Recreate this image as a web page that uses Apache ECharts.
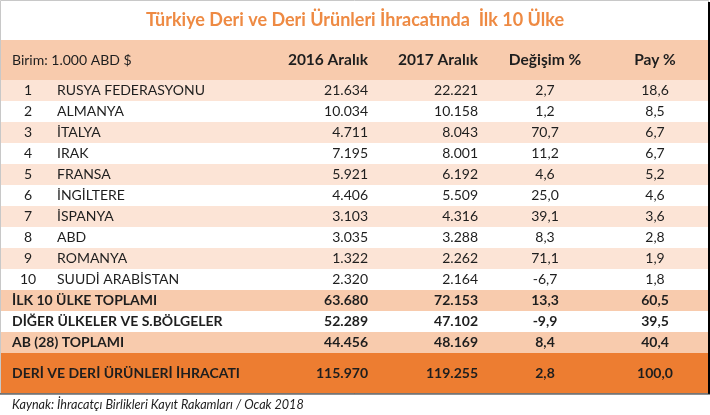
<!DOCTYPE html>
<html><head><meta charset="utf-8">
<script src="https://cdn.jsdelivr.net/npm/echarts@6/dist/echarts.min.js"></script>
<style>html,body{margin:0;padding:0;background:#fff}#c{width:710px;height:415px}</style>
</head><body><div id="c"></div>
<script>
// ---- data ----
const title = 'Türkiye Deri ve Deri Ürünleri İhracatında  İlk 10 Ülke';
const unitLabel = 'Birim: 1.000 ABD $';
const headers = ['2016 Aralık', '2017 Aralık', 'Değişim %', 'Pay %'];
const ranks = [1, 2, 3, 4, 5, 6, 7, 8, 9, 10];
const countries = ['RUSYA FEDERASYONU', 'ALMANYA', 'İTALYA', 'IRAK', 'FRANSA', 'İNGİLTERE', 'İSPANYA', 'ABD', 'ROMANYA', 'SUUDİ ARABİSTAN'];
const values2016 = [21634, 10034, 4711, 7195, 5921, 4406, 3103, 3035, 1322, 2320];
const values2017 = [22221, 10158, 8043, 8001, 6192, 5509, 4316, 3288, 2262, 2164];
const changePct = [2.7, 1.2, 70.7, 11.2, 4.6, 25.0, 39.1, 8.3, 71.1, -6.7];
const sharePct = [18.6, 8.5, 6.7, 6.7, 5.2, 4.6, 3.6, 2.8, 1.9, 1.8];
const totalNames = ['İLK 10 ÜLKE TOPLAMI', 'DİĞER ÜLKELER VE S.BÖLGELER', 'AB (28) TOPLAMI', 'DERİ VE DERİ ÜRÜNLERİ İHRACATI'];
const total2016 = [63680, 52289, 44456, 115970];
const total2017 = [72153, 47102, 48169, 119255];
const totalChange = [13.3, -9.9, 8.4, 2.8];
const totalShare = [60.5, 39.5, 40.4, 100.0];
const source = 'Kaynak: İhracatçı Birlikleri Kayıt Rakamları / Ocak 2018';

// ---- formatting ----
const fmtInt = v => String(v).replace(/\B(?=(\d{3})+(?!\d))/g, '.');
const fmtPct = v => v.toFixed(1).replace('.', ',');

// ---- layout (style only) ----
const FONT = 'Lato, "Open Sans", sans-serif';
const colX = { rank: 28, name: 57, totalName: 12, v16: 368, v17: 478, chg: 545, share: 655 };
const C_HEAD = '#F8CBAD', C_LIGHT = '#FCE4D6', C_DARK = '#ED7D31', C_WHITE = '#FFFFFF';
const TXT = '#1e1e1e';
const FS_BODY = 14, FS_BOLD = 14, FS_HEAD = 15.5, FS_TITLE = 18, FS_SRC = 12.6;

// build table rows
const rows = [];
rows.push({ kind: 'title', top: 0, h: 40, bg: C_WHITE });
rows.push({ kind: 'header', top: 40, h: 40, bg: C_HEAD });
ranks.forEach((r, i) => rows.push({
  kind: 'body', top: 80 + i * 21, h: 21, bg: i % 2 === 0 ? C_LIGHT : C_WHITE,
  cells: [String(r), countries[i], fmtInt(values2016[i]), fmtInt(values2017[i]), fmtPct(changePct[i]), fmtPct(sharePct[i])]
}));
const totBg = [C_HEAD, C_WHITE, C_HEAD, C_DARK];
totalNames.forEach((n, i) => rows.push({
  kind: 'total', top: 290 + i * 21, h: i === 3 ? 41 : 21, bg: totBg[i],
  cells: [n, fmtInt(total2016[i]), fmtInt(total2017[i]), fmtPct(totalChange[i]), fmtPct(totalShare[i])]
}));

function txt(api, x, y, s, align, bold, size, color, italic) {
  const p = api.coord([x, y]);
  return { type: 'text', x: p[0], y: p[1], style: {
    text: s, fill: color || TXT, align: align, verticalAlign: 'middle',
    font: (italic ? 'italic ' : '') + (bold ? 'bold ' : '') + (size || FS_BODY) + 'px ' + FONT } };
}

function renderItem(params, api) {
  const row = rows[params.dataIndex];
  const p0 = api.coord([0, row.top]);
  const p1 = api.coord([710, row.top + row.h]);
  const children = [{ type: 'rect', shape: { x: p0[0], y: p0[1], width: p1[0] - p0[0], height: p1[1] - p0[1] }, style: { fill: row.bg } }];
  const cy = row.top + row.h / 2;
  if (row.kind === 'title') {
    children.push(txt(api, 355, cy, title, 'center', true, FS_TITLE, '#EE8A43'));
  } else if (row.kind === 'header') {
    children.push(txt(api, 12, cy, unitLabel, 'left', false, FS_BODY));
    children.push(txt(api, colX.v16, cy, headers[0], 'right', true, FS_HEAD));
    children.push(txt(api, colX.v17, cy, headers[1], 'right', true, FS_HEAD));
    children.push(txt(api, colX.chg, cy, headers[2], 'center', true, FS_HEAD));
    children.push(txt(api, colX.share, cy, headers[3], 'center', true, FS_HEAD));
  } else if (row.kind === 'body') {
    const c = row.cells;
    children.push(txt(api, colX.rank, cy, c[0], 'center', false));
    children.push(txt(api, colX.name, cy, c[1], 'left', false));
    children.push(txt(api, colX.v16, cy, c[2], 'right', false));
    children.push(txt(api, colX.v17, cy, c[3], 'right', false));
    children.push(txt(api, colX.chg, cy, c[4], 'center', false));
    children.push(txt(api, colX.share, cy, c[5], 'center', false));
  } else {
    const c = row.cells;
    children.push(txt(api, colX.totalName, cy, c[0], 'left', true, FS_BOLD));
    children.push(txt(api, colX.v16, cy, c[1], 'right', true, FS_BOLD));
    children.push(txt(api, colX.v17, cy, c[2], 'right', true, FS_BOLD));
    children.push(txt(api, colX.chg, cy, c[3], 'center', true, FS_BOLD));
    children.push(txt(api, colX.share, cy, c[4], 'center', true, FS_BOLD));
  }
  return { type: 'group', children: children };
}

function renderFrame(params, api) {
  const a = api.coord([0, 0]), b = api.coord([710, 394]);
  return { type: 'group', children: [
    { type: 'rect', shape: { x: a[0] + 0.5, y: a[1] + 0.5, width: b[0] - a[0] - 2, height: b[1] - a[1] - 1 }, style: { fill: null, stroke: '#c8c8c8', lineWidth: 1 } },
    { type: 'line', shape: { x1: b[0] - 1, y1: a[1] + 2, x2: b[0] - 1, y2: b[1] }, style: { stroke: '#000', lineWidth: 2 } },
    { type: 'line', shape: { x1: a[0], y1: b[1], x2: b[0], y2: b[1] }, style: { stroke: '#222', lineWidth: 1 } },
    txt(api, 12, 405, source, 'left', false, FS_SRC, '#222', true)
  ] };
}

const chart = echarts.init(document.getElementById('c'), null, { renderer: 'canvas' });
chart.setOption({
  animation: false,
  grid: { left: 0, right: 0, top: 0, bottom: 0 },
  xAxis: { type: 'value', min: 0, max: 710, show: false },
  yAxis: { type: 'value', min: 0, max: 415, inverse: true, show: false },
  series: [
    { type: 'custom', renderItem: renderItem, data: rows.map((r, i) => i), clip: false },
    { type: 'custom', renderItem: renderFrame, data: [0], clip: false, z: 5 }
  ]
});
</script></body></html>
